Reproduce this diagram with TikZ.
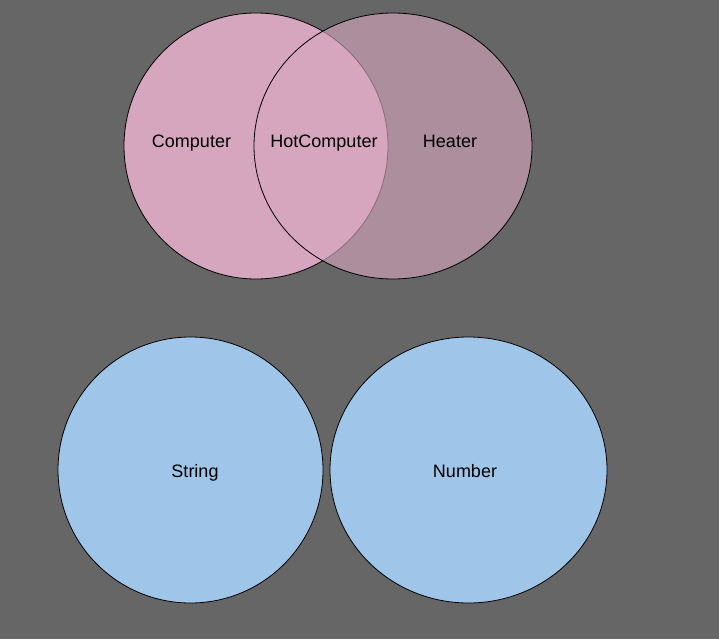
\documentclass[tikz,border=0pt]{standalone}
\usepackage{fontspec}
\setmainfont{Liberation Sans}
\usetikzlibrary{shapes.geometric}
\definecolor{canvas}{HTML}{666666}
\definecolor{setpink}{HTML}{D5A6BD}
\definecolor{setblue}{HTML}{9FC5E8}

\begin{document}
\begin{tikzpicture}[x=1pt, y=-1pt,
  set/.style={ellipse, draw=black, line width=0.8pt, inner sep=0pt,
              minimum height=266pt},
  lbl/.style={font=\fontsize{18}{22}\selectfont, anchor=base, text=black},
]
  \fill[canvas] (0,0) rectangle (719,639);
  % top sets
  \node[set, fill=setpink, minimum width=264pt] (computer) at (256,146) {};
  \node[set, fill=setpink, fill opacity=0.64, minimum width=278pt] (heater) at (393,146) {};
  \node[lbl] (computerlbl) at (191.5,148) {Computer};
  \node[lbl] (hotlbl) at (324,148) {HotComputer};
  \node[lbl] (heaterlbl) at (450,148) {Heater};
  % bottom sets
  \node[set, fill=setblue, minimum width=265pt] (string) at (190.5,470) {};
  \node[set, fill=setblue, minimum width=277pt] (number) at (468.5,470) {};
  \node[lbl] (stringlbl) at (195,477.5) {String};
  \node[lbl] (numberlbl) at (465,477.5) {Number};
\end{tikzpicture}
\end{document}
